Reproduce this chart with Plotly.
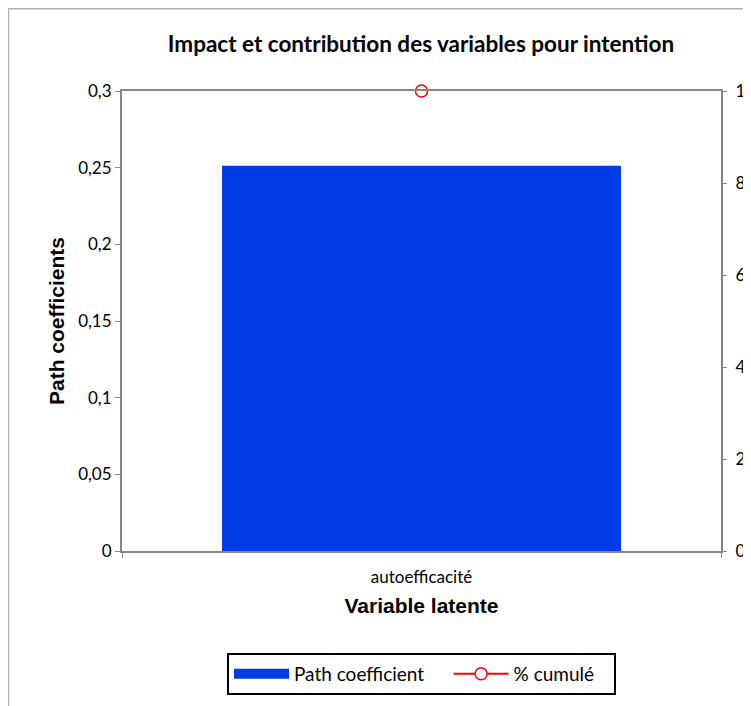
import plotly.graph_objects as go

categories = ["autoefficacité"]
path_coef = [0.2512]
cumul_pct = [100]

title_text = "Impact et contribution des variables pour intention"
bar_color = "#003CE6"
axis_gray = "#868686"
NB = "\u00a0"

fig = go.Figure()

fig.add_trace(go.Bar(
    x=categories, y=path_coef, name="Path coefficient",
    marker=dict(color=bar_color, line=dict(width=0)),
    width=0.666, showlegend=False, yaxis="y",
))
# legend swatch for the bar series (wide rectangle like the original)
fig.add_trace(go.Scatter(
    x=[None], y=[None], name="Path coefficient" + NB * 4, mode="lines",
    line=dict(color=bar_color, width=10), yaxis="y",
))
fig.add_trace(go.Scatter(
    x=categories, y=cumul_pct, name="% cumulé" + NB * 3, mode="lines+markers",
    line=dict(color="#FF0000", width=2),
    marker=dict(symbol="circle", size=12, color="white",
                line=dict(color="#FF0000", width=1.5)),
    yaxis="y2", cliponaxis=False,
))

W, H = 743, 698
L, R, T, B = 114, 30, 83, 154

fig.update_layout(
    width=W, height=H,
    paper_bgcolor="white", plot_bgcolor="white",
    separators=", ",
    margin=dict(l=L, r=R, t=T, b=B),
    font=dict(family="Lato, Liberation Sans, sans-serif", size=17, color="#000"),
    title=dict(text="<b>" + title_text + "</b>", x=413 / W, xanchor="center",
               y=1 - 36 / H, yanchor="middle",
               font=dict(family="Lato, sans-serif", size=22.5, color="#000")),
    xaxis=dict(
        showline=True, linecolor=axis_gray, linewidth=2, mirror=True,
        ticks="outside", tickson="boundaries", ticklen=5, tickcolor=axis_gray,
        showgrid=False, tickfont=dict(size=17), ticklabelstandoff=10,
        title=dict(text="<b>Variable latente</b>",
                   font=dict(family="Liberation Sans, Arial, sans-serif", size=21),
                   standoff=12),
        automargin=False,
    ),
    yaxis=dict(
        range=[0, 0.3], dtick=0.05, showline=True, linecolor=axis_gray, linewidth=2,
        ticks="outside", ticklen=5, tickcolor=axis_gray, showgrid=False,
        zeroline=False, tickfont=dict(size=17),
        title=dict(text="<b>Path coefficients</b>",
                   font=dict(family="Liberation Sans, Arial, sans-serif", size=21),
                   standoff=8),
        automargin=False,
    ),
    yaxis2=dict(
        range=[0, 100], dtick=20, overlaying="y", side="right",
        showline=True, linecolor=axis_gray, linewidth=2,
        ticks="outside", ticklen=4, tickcolor=axis_gray, showgrid=False,
        zeroline=False, tickfont=dict(size=17), ticklabelstandoff=5,
        automargin=False,
    ),
    legend=dict(
        orientation="h", x=0.5, xanchor="center", y=-0.2646, yanchor="middle",
        bordercolor="#000", borderwidth=2, bgcolor="white",
        font=dict(family="Lato, sans-serif", size=19),
        itemwidth=55,
    ),
    bargap=0.334,
)

fig.add_shape(type="rect", xref="paper", yref="paper",
              x0=-(L - 0.5) / (W - L - R), x1=1.2,
              y0=-(B + 20) / (H - T - B), y1=1 + (T - 0.5) / (H - T - B),
              line=dict(color="#B0B0B0", width=1.5), layer="below")

fig.write_html("out.html")
